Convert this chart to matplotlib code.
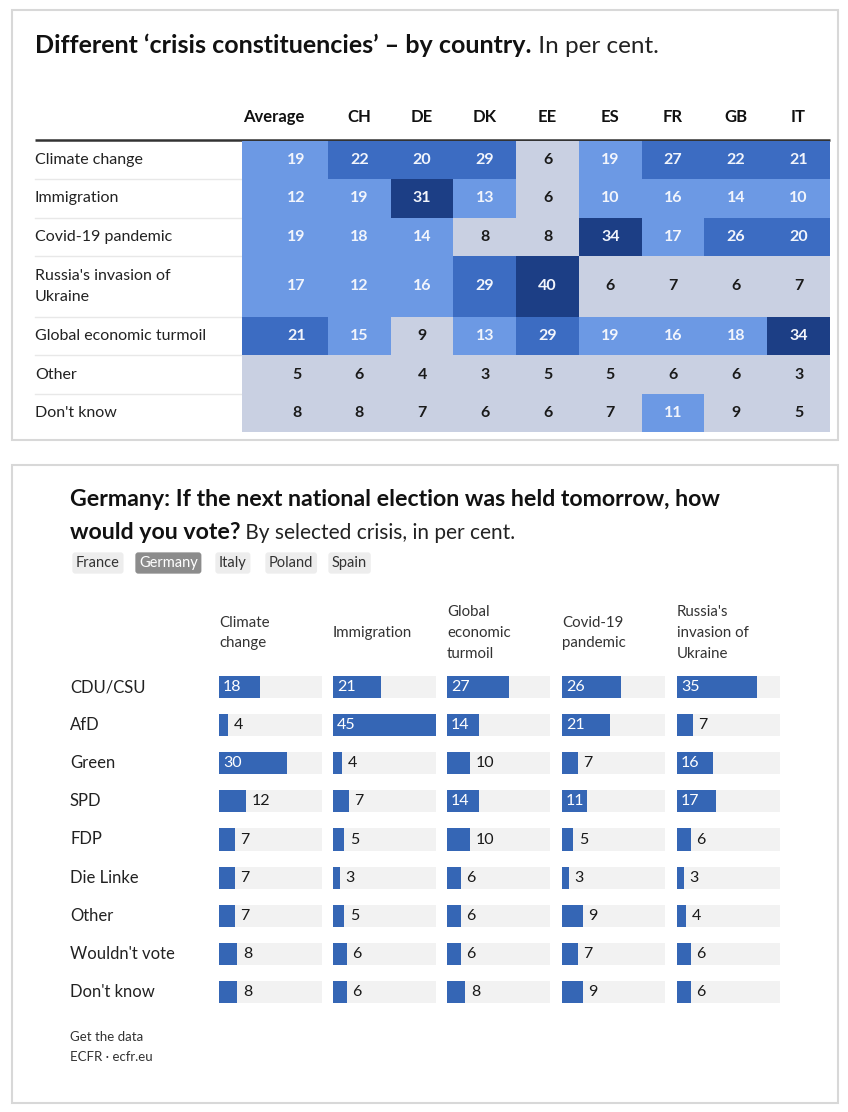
import matplotlib
matplotlib.use("Agg")
import matplotlib.pyplot as plt
import matplotlib.transforms as mtransforms
from matplotlib.colors import ListedColormap, BoundaryNorm
from matplotlib.patches import Rectangle
import numpy as np

plt.rcParams['font.family'] = ['Lato', 'DejaVu Sans']

# ---- data: top heatmap ----
hm_cols = ["Average", "CH", "DE", "DK", "EE", "ES", "FR", "GB", "IT"]
hm_rows = ["Climate change", "Immigration", "Covid-19 pandemic",
           "Russia's invasion of\nUkraine", "Global economic turmoil",
           "Other", "Don't know"]
climate = [19, 22, 20, 29, 6, 19, 27, 22, 21]
immigration = [12, 19, 31, 13, 6, 10, 16, 14, 10]
covid = [19, 18, 14, 8, 8, 34, 17, 26, 20]
russia = [17, 12, 16, 29, 40, 6, 7, 6, 7]
economy = [21, 15, 9, 13, 29, 19, 16, 18, 34]
other = [5, 6, 4, 3, 5, 5, 6, 6, 3]
dont_know = [8, 8, 7, 6, 6, 7, 11, 9, 5]

# ---- data: Germany bars ----
parties = ["CDU/CSU", "AfD", "Green", "SPD", "FDP", "Die Linke", "Other",
           "Wouldn't vote", "Don't know"]
crises = ["Climate\nchange", "Immigration", "Global\neconomic\nturmoil",
          "Covid-19\npandemic", "Russia's\ninvasion of\nUkraine"]
de_climate = [18, 4, 30, 12, 7, 7, 7, 8, 8]
de_immigration = [21, 45, 4, 7, 5, 3, 5, 6, 6]
de_economy = [27, 14, 10, 14, 10, 6, 6, 6, 8]
de_covid = [26, 21, 7, 11, 5, 3, 9, 7, 9]
de_russia = [35, 7, 16, 17, 6, 3, 4, 6, 6]
tabs = ["France", "Germany", "Italy", "Poland", "Spain"]

W, H = 848, 1112
fig = plt.figure(figsize=(W / 100, H / 100), dpi=100)
fig.patch.set_facecolor("white")


def px_axes(x0, y0, x1, y1):
    return fig.add_axes([x0 / W, 1 - y1 / H, (x1 - x0) / W, (y1 - y0) / H])


bg = fig.add_axes([0, 0, 1, 1])
bg.set_xlim(0, W)
bg.set_ylim(H, 0)
bg.axis("off")

# panel frames
bg.add_patch(Rectangle((12, 10), 826, 430, fc="white", ec="#d8d8d8", lw=1.5))
bg.add_patch(Rectangle((12, 465), 826, 638, fc="white", ec="#d8d8d8", lw=1.5))

# ---- top title ----
t1 = bg.text(35, 57, "Different \u2018crisis constituencies\u2019 \u2013 by country.",
             fontsize=18, fontweight="bold", va="bottom", ha="left", color="#111")
bg.annotate(" In per cent.", xy=(1, 0), xycoords=t1, va="bottom", ha="left",
            fontsize=17.5, color="#222")

# ---- heatmap ----
values = np.array([climate, immigration, covid, russia, economy, other, dont_know])
row_h = [1, 1, 1, 1.6, 1, 1, 1]
y_edges = np.concatenate([[0], np.cumsum(row_h)])
x_edges = np.concatenate([[-0.37], np.arange(1, len(hm_cols) + 1)])
cell_colors = ["#c9d0e2", "#6c99e4", "#3c6cc2", "#1c3e85"]
bounds = [0, 10, 20, 30, 100]

hm = px_axes(242, 141, 830, 432)
hm.pcolormesh(x_edges, y_edges, values, cmap=ListedColormap(cell_colors),
              norm=BoundaryNorm(bounds, len(cell_colors)))
hm.set_xlim(x_edges[0], x_edges[-1])
hm.set_ylim(y_edges[-1], 0)
hm.axis("off")

row_c = (y_edges[:-1] + y_edges[1:]) / 2
for i in range(values.shape[0]):
    for j in range(values.shape[1]):
        v = values[i, j]
        tc = "#1a1a1a" if v < 10 else "#f2f5fc"
        hm.text(j + 0.5, row_c[i], str(v), ha="center", va="center",
                fontsize=11.5, fontweight="bold", color=tc)

# column headers
head_x = [0.13] + [j + 0.5 for j in range(1, len(hm_cols))]
for x, c in zip(head_x, hm_cols):
    hm.text(x, -0.62, c, ha="center", va="center", fontsize=12,
            fontweight="bold", color="#111", clip_on=False)

# row labels and separators
lab_tr = mtransforms.blended_transform_factory(bg.transData, hm.transData)
for i, r in enumerate(hm_rows):
    bg.text(35, row_c[i], r, transform=lab_tr, ha="left", va="center",
            fontsize=11.5, color="#222", linespacing=1.55)
for e in y_edges[1:-1]:
    bg.plot([35, 242], [e, e], transform=lab_tr, color="#e8e8e8", lw=1)
bg.plot([35, 830], [139.5, 139.5], color="#333", lw=1.8, solid_capstyle="butt")

# ---- bottom title ----
t2 = bg.text(70, 510, "Germany: If the next national election was held tomorrow, how",
             fontsize=16.7, fontweight="bold", va="bottom", ha="left", color="#111")
t3 = bg.text(70, 543, "would you vote?", fontsize=16.7, fontweight="bold",
             va="bottom", ha="left", color="#111")
bg.annotate(" By selected crisis, in per cent.", xy=(1, 0), xycoords=t3,
            va="bottom", ha="left", fontsize=15, color="#222")

# tabs
tab_x = [76, 139, 219, 269, 332]
for x, t in zip(tab_x, tabs):
    active = t == "Germany"
    bg.text(x, 563, t, ha="left", va="center", fontsize=10.5,
            color="white" if active else "#333",
            bbox=dict(boxstyle="round,pad=0.25,rounding_size=0.2",
                      fc="#8c8c8c" if active else "#ededed", ec="none"))

# ---- bar columns ----
series = [de_climate, de_immigration, de_economy, de_covid, de_russia]
track = max(max(s) for s in series)
col_x = [219, 333, 447, 562, 677]
rows = np.arange(len(parties))
bar_blue = "#3566b5"

for x0, name, vals in zip(col_x, crises, series):
    ax = px_axes(x0, 668, x0 + 102.6, 1011)
    ax.barh(rows, [track] * len(rows), height=0.58, color="#f2f2f2")
    ax.barh(rows, vals, height=0.58, color=bar_blue)
    ax.set_xlim(0, track)
    ax.set_ylim(len(rows) - 0.5, -0.5)
    ax.axis("off")
    for r, v in zip(rows, vals):
        s = str(v)
        # narrow "1" glyphs let 11 fit inside, 12 does not
        fits = v >= 13 or set(s) == {"1"}
        if fits:
            ax.annotate(s, xy=(0, r), xytext=(3, 0), textcoords="offset points",
                        ha="left", va="center", fontsize=11.5, color="white")
        else:
            ax.annotate(s, xy=(v, r), xytext=(4, 0), textcoords="offset points",
                        ha="left", va="center", fontsize=11.5, color="#1a1a1a")
    bg.text(x0, 633, name, ha="left", va="center", fontsize=10.8,
            color="#333", linespacing=1.6)

row_tr = mtransforms.blended_transform_factory(bg.transData, ax.transData)
for r, p in zip(rows, parties):
    bg.text(70, r, p, transform=row_tr, ha="left", va="center",
            fontsize=12, color="#222")

# footer
bg.text(70, 1037, "Get the data", fontsize=9.5, color="#333", va="center")
bg.text(70, 1057, "ECFR \u00b7 ecfr.eu", fontsize=9.5, color="#333", va="center")

fig.savefig("out.png", dpi=100, facecolor="white")
